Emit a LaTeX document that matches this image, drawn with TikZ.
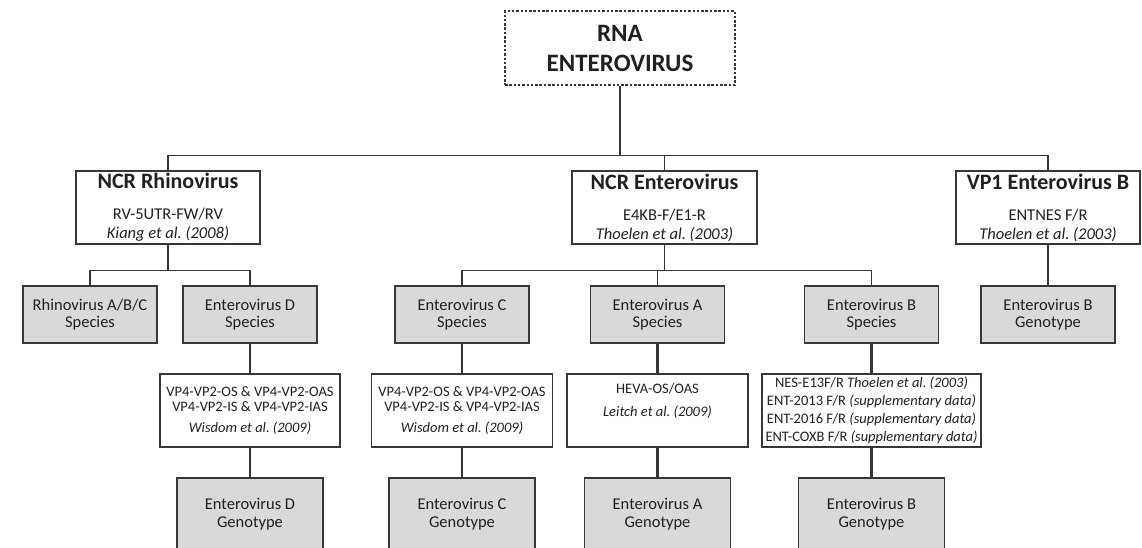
\documentclass[tikz,border=0pt]{standalone}
\usepackage{fontspec}
\setmainfont{Carlito}
\usetikzlibrary{calc}

\definecolor{boxgray}{RGB}{217,217,217}
\definecolor{linegray}{RGB}{55,55,55}
\definecolor{textgray}{RGB}{35,31,32}
\newcommand{\boxtitle}[1]{{\fontsize{22}{24}\selectfont\bfseries #1}}

\begin{document}
\frenchspacing
\begin{tikzpicture}[x=1pt,y=-1pt,
  every node/.style={text=textgray,align=center,inner sep=0pt},
  conn/.style={draw=linegray,line width=1.3pt},
  midconn/.style={draw=linegray,line width=1.8pt},
  thickconn/.style={draw=linegray,line width=2.6pt},
  rootbox/.style={draw=linegray,line width=1.3pt,dash pattern=on 2.5pt off 1.8pt,
    minimum width=230pt,minimum height=74pt,font=\fontsize{25}{30}\selectfont\bfseries},
  methodbox/.style={draw=linegray,line width=1.5pt,fill=white,
    minimum width=184pt,minimum height=73pt,font=\fontsize{16.5}{19}\selectfont},
  speciesbox/.style={draw=linegray,line width=1.5pt,fill=boxgray,
    minimum width=134pt,minimum height=57pt,font=\fontsize{16.5}{17.5}\selectfont},
  primerbox/.style={draw=linegray,line width=1.5pt,fill=white,
    minimum width=181pt,minimum height=73pt,font=\fontsize{14.5}{15.7}\selectfont},
  genobox/.style={speciesbox,minimum width=146pt,minimum height=73pt,
    font=\fontsize{16.5}{18}\selectfont}]
\useasboundingbox (0,0) rectangle (1142,547);
% Root
\node[rootbox] (rna) at (620,48) {RNA\\ENTEROVIRUS};
% Methods
\node[methodbox] (ncrrhino) at (168,207.5) {\boxtitle{NCR Rhinovirus}\\[12pt]RV-5UTR-FW/RV\\\textit{Kiang et al. (2008)}};
\node[methodbox,minimum width=185pt] (ncrentero) at (664.5,207.5) {\boxtitle{NCR Enterovirus}\\[12pt]E4KB-F/E1-R\\\textit{Thoelen et al. (2003)}};
\node[methodbox] (vp1) at (1048,207.5) {\boxtitle{VP1 Enterovirus B}\\[12pt]ENTNES F/R\\\textit{Thoelen et al. (2003)}};
% Species
\node[speciesbox] (rhinoabc) at (90,314.5) {Rhinovirus A/B/C\\Species};
\node[speciesbox] (speciesD) at (250,314.5) {Enterovirus D\\Species};
\node[speciesbox] (speciesC) at (462,314.5) {Enterovirus C\\Species};
\node[speciesbox] (speciesA) at (657.5,314.5) {Enterovirus A\\Species};
\node[speciesbox] (speciesB) at (871.5,314.5) {Enterovirus B\\Species};
\node[speciesbox] (genovp1) at (1048,314.5) {Enterovirus B\\Genotype};
% Primers
\node[primerbox,minimum width=180pt] (primerD) at (250,410.5) {VP4-VP2-OS \& VP4-VP2-OAS\\VP4-VP2-IS \& VP4-VP2-IAS\\[5pt]\textit{Wisdom et al. (2009)}};
\node[primerbox] (primerC) at (462,410.5) {VP4-VP2-OS \& VP4-VP2-OAS\\VP4-VP2-IS \& VP4-VP2-IAS\\[5pt]\textit{Wisdom et al. (2009)}};
\node[primerbox] (primerA) at (657.5,410.5) {HEVA-OS/OAS\\[7pt]\textit{Leitch et al. (2009)}\\[6pt]};
\node[primerbox,minimum width=219pt,font=\fontsize{14.5}{18}\selectfont] (primerB) at (871.5,410.5) {NES-E13F/R \textit{Thoelen et al. (2003)}\\ENT-2013 F/R \textit{(supplementary data)}\\ENT-2016 F/R \textit{(supplementary data)}\\ENT-COXB F/R \textit{(supplementary data)}};
% Genotypes
\node[genobox] (genoD) at (250,514.5) {Enterovirus D\\Genotype};
\node[genobox] (genoC) at (462,514.5) {Enterovirus C\\Genotype};
\node[genobox] (genoA) at (657.5,514.5) {Enterovirus A\\Genotype};
\node[genobox] (genoB) at (871.5,514.5) {Enterovirus B\\Genotype};
% Root to methods
\coordinate (topbus) at (620,155.7);
\draw[conn] (rna.south) -- (topbus);
\draw[conn] (ncrrhino.north) |- (topbus) -| (vp1.north);
\draw[conn] (ncrentero.north) -- (ncrentero.north |- topbus);
% Rhinovirus branch
\coordinate (rhinobus) at (168,270.7);
\draw[conn] (ncrrhino.south) -- (rhinobus);
\draw[conn] (rhinoabc.north) |- (rhinobus) -| (speciesD.north);
% Enterovirus branch
\coordinate (enterobus) at (664.5,270.7);
\draw[conn] (ncrentero.south) -- (enterobus);
\draw[conn] (speciesC.north) |- (enterobus) -| (speciesB.north);
\draw[conn] (speciesA.north) -- (speciesA.north |- enterobus);
% Species to genotype
\draw[thickconn] (speciesD.south) -- (primerD.north);
\draw[thickconn] (primerD.south) -- (genoD.north);
\draw[midconn] (speciesC.south) -- (primerC.north);
\draw[midconn] (primerC.south) -- (genoC.north);
\draw[thickconn] (speciesA.south) -- (primerA.north);
\draw[thickconn] (primerA.south) -- (genoA.north);
\draw[thickconn] (speciesB.south) -- (primerB.north);
\draw[thickconn] (primerB.south) -- (genoB.north);
\draw[thickconn] (vp1.south) -- (genovp1.north);
\end{tikzpicture}
\end{document}
